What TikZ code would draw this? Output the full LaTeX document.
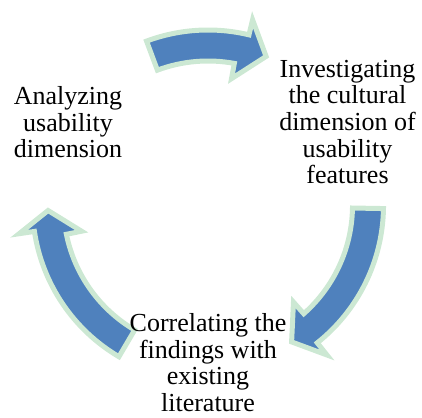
\documentclass[tikz,border=0pt]{standalone}
\usepackage{fontspec}
\setmainfont{Liberation Serif}
\usetikzlibrary{calc}

\definecolor{arrowblue}{RGB}{79,129,189}
\definecolor{arrowrim}{RGB}{204,232,211}

% ring geometry: mid radius, half body width, half head width
\def\R{160pt}
\def\W{15.5pt}
\def\H{31pt}
% the head base leans: outer barb sits this many degrees further along
\def\lean{1.5}

\tikzset{
  cyclearrow/.style={fill=arrowblue, draw=arrowrim, line width=5pt},
  % base anchor of a multi-line label sits on its last line
  stagetext/.style={font=\fontsize{26}{26.7}\selectfont, align=center,
    anchor=base, inner sep=0pt, text=black}
}

% clockwise curved arrow on the ring: tail angle, head base angle, tip angle
\newcommand{\ringarrow}[3]{%
  \draw[cyclearrow]
    ($(O)+(#1:\R+\W)$) arc[start angle=#1, end angle={#2-\lean}, radius=\R+\W]
    -- ($(O)+({#2-\lean}:\R+\H)$)
    -- ($(O)+(#3:\R)$)
    -- ($(O)+({#2+\lean}:\R-\H)$)
    -- ($(O)+({#2+\lean}:\R-\W)$) arc[start angle={#2+\lean}, end angle=#1, radius=\R-\W]
    -- cycle;}

\begin{document}
\begin{tikzpicture}[x=1pt, y=1pt]
  \useasboundingbox (0,0) rectangle (422,417);
  \coordinate (O) at (208,211.5);

  % the three arrows of the cycle
  \ringarrow{110.5}{78}{68.7}
  \ringarrow{-1}{-50}{-58.5}
  \ringarrow{239.5}{190}{181.8}

  % stage labels
  \node[stagetext] (analyze) at (68,259) {Analyzing\\usability\\dimension};
  \node[stagetext] (investigate) at (347.5,233) {Investigating\\the cultural\\dimension of\\usability\\features};
  \node[stagetext] (correlate) at (208,5.5) {Correlating the\\findings with\\existing\\literature};
\end{tikzpicture}
\end{document}
